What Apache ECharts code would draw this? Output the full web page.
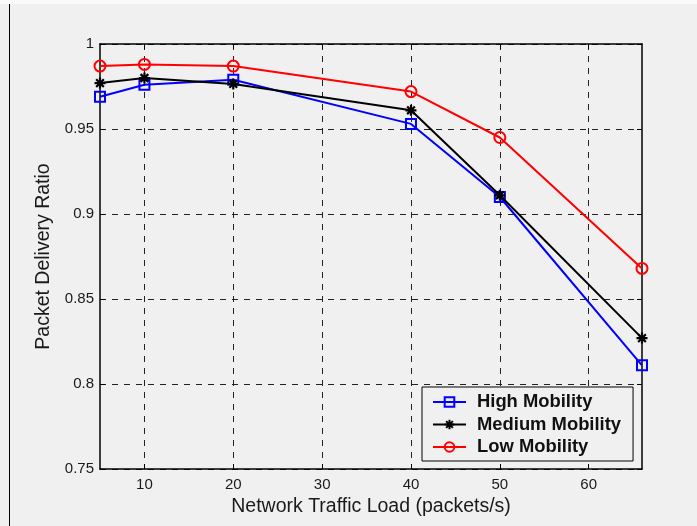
<!DOCTYPE html>
<html>
<head>
<meta charset="utf-8">
<script src="https://cdn.jsdelivr.net/npm/echarts@6/dist/echarts.min.js"></script>
<style>
  html, body { margin: 0; padding: 0; background: #f0f0f0; }
  #chart { width: 697px; height: 526px; }
</style>
</head>
<body>
<div id="chart"></div>
<script>
// Traffic load (packets/s) at which delivery ratio was measured
const trafficLoad = [5, 10, 20, 40, 50, 66];
// Packet delivery ratio per mobility level
const highMobility = [0.969, 0.976, 0.979, 0.953, 0.910, 0.811];
const mediumMobility = [0.977, 0.980, 0.9765, 0.961, 0.911, 0.827];
const lowMobility = [0.987, 0.988, 0.987, 0.972, 0.945, 0.868];
// Axis tick values
const xTicks = [10, 20, 30, 40, 50, 60];
const yRange = { min: 0.75, max: 1, step: 0.05 };

const seriesNames = ['High Mobility', 'Medium Mobility', 'Low Mobility'];

const FONT = '"Liberation Sans", Arial, Helvetica, sans-serif';
const BG = '#f0f0f0';

const pair = (ys) => trafficLoad.map((x, i) => [x, ys[i]]);

// Stroked asterisk marker
const asterisk = 'path://M0,5L10,5M5,0L5,10M1.5,1.5L8.5,8.5M1.5,8.5L8.5,1.5';

const chart = echarts.init(document.getElementById('chart'), null, { renderer: 'canvas' });

const gridLine = { show: true, lineStyle: { color: '#222', width: 1, type: [6, 6] } };
const inTick = { show: true, inside: true, length: 5, lineStyle: { color: '#000', width: 1 } };

chart.setOption({
  backgroundColor: BG,
  animation: false,
  textStyle: { fontFamily: FONT },
  grid: { left: 100, right: 55, top: 44, bottom: 57, containLabel: false },
  xAxis: [
    {
      type: 'value', position: 'bottom',
      min: 5, max: 66,
      name: 'Network Traffic Load (packets/s)',
      nameLocation: 'middle', nameGap: 26,
      nameTextStyle: { fontSize: 19.5, color: '#1a1a1a', fontFamily: FONT },
      axisLine: { show: true, lineStyle: { color: '#000', width: 1.5 } },
      axisTick: Object.assign({}, inTick, { customValues: xTicks }),
      axisLabel: { customValues: xTicks, fontSize: 15, color: '#1a1a1a', margin: 8, fontFamily: FONT },
      splitLine: gridLine
    },
    {
      type: 'value', position: 'top',
      min: 5, max: 66,
      axisLine: { show: true, lineStyle: { color: '#000', width: 1.5 } },
      axisTick: Object.assign({}, inTick, { customValues: xTicks }),
      axisLabel: { show: false },
      splitLine: { show: false }
    }
  ],
  yAxis: [
    {
      type: 'value', position: 'left',
      min: yRange.min, max: yRange.max, interval: yRange.step,
      name: 'Packet Delivery Ratio',
      nameLocation: 'middle', nameGap: 40,
      nameTextStyle: { fontSize: 19.5, color: '#1a1a1a', fontFamily: FONT },
      axisLine: { show: true, lineStyle: { color: '#000', width: 1.5 } },
      axisTick: inTick,
      axisLabel: { fontSize: 15, color: '#1a1a1a', margin: 6, fontFamily: FONT },
      splitLine: gridLine
    },
    {
      type: 'value', position: 'right',
      min: yRange.min, max: yRange.max, interval: yRange.step,
      axisLine: { show: true, lineStyle: { color: '#000', width: 1.5 } },
      axisTick: inTick,
      axisLabel: { show: false },
      splitLine: { show: false }
    }
  ],
  legend: {
    orient: 'vertical',
    left: 422, top: 387,
    data: seriesNames,
    itemWidth: 33, itemHeight: 12, itemGap: 2.5,
    padding: [5, 12, 4, 10],
    backgroundColor: BG,
    borderColor: '#000', borderWidth: 1,
    textStyle: {
      fontSize: 18.4, fontWeight: 'bold', color: '#111', lineHeight: 20,
      padding: [0, 0, 0, 6], fontFamily: FONT
    },
    itemStyle: { borderWidth: 2 }
  },
  series: [
    {
      name: seriesNames[0], type: 'line', data: pair(highMobility),
      symbol: 'rect', symbolSize: 10, z: 3,
      lineStyle: { color: '#0000ff', width: 2 },
      itemStyle: { color: 'rgba(0,0,0,0)', borderColor: '#0000ff', borderWidth: 2 }
    },
    {
      name: seriesNames[1], type: 'line', data: pair(mediumMobility),
      symbol: asterisk, symbolSize: 11, z: 4,
      lineStyle: { color: '#000000', width: 2 },
      itemStyle: { color: 'rgba(0,0,0,0)', borderColor: '#000000', borderWidth: 2.2 }
    },
    {
      name: seriesNames[2], type: 'line', data: pair(lowMobility),
      symbol: 'circle', symbolSize: 11, z: 5,
      lineStyle: { color: '#ff0000', width: 2 },
      itemStyle: { color: 'rgba(0,0,0,0)', borderColor: '#ff0000', borderWidth: 2 }
    }
  ],
  graphic: [
    { type: 'rect', left: 0, top: 0, shape: { width: 697, height: 4 }, style: { fill: '#fafafa' }, silent: true },
    { type: 'line', shape: { x1: 9.5, y1: 4, x2: 9.5, y2: 526 }, style: { stroke: '#000', lineWidth: 1 }, silent: true }
  ]
});
</script>
</body>
</html>
